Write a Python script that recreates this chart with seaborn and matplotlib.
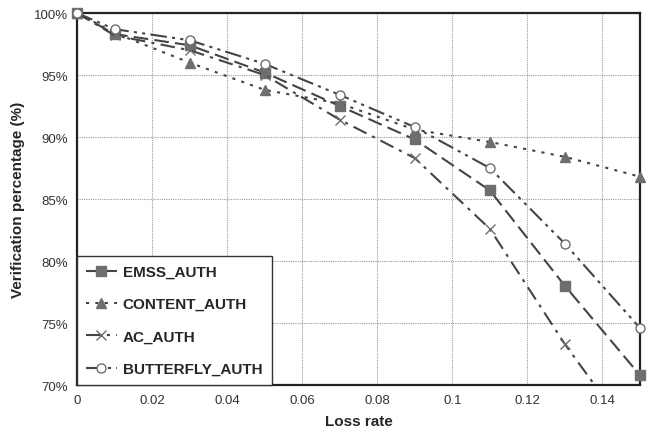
import numpy as np
import pandas as pd
import seaborn as sns
import matplotlib
matplotlib.use('Agg')
import matplotlib.pyplot as plt
from matplotlib.ticker import FuncFormatter

loss_rate = [0, 0.01, 0.03, 0.05, 0.07, 0.09, 0.11, 0.13, 0.15]
emss = [100, 98.3, 97.4, 95.2, 92.5, 89.8, 85.7, 78.0, 70.8]
content = [100, 98.4, 96.0, 93.8, 92.7, 90.6, 89.6, 88.4, 86.8]
ac = [100, 98.2, 97.0, 95.0, 91.4, 88.3, 82.6, 73.3, 65.0]
butterfly = [100, 98.7, 97.8, 95.9, 93.4, 90.8, 87.5, 81.4, 74.6]
names = ['EMSS_AUTH', 'CONTENT_AUTH', 'AC_AUTH', 'BUTTERFLY_AUTH']

df = pd.concat([
    pd.DataFrame({'loss': loss_rate, 'pct': v, 'scheme': n})
    for n, v in zip(names, [emss, content, ac, butterfly])
])

sns.set_style('white')
plt.rcParams['font.family'] = ['Liberation Sans', 'DejaVu Sans']

fig = plt.figure(figsize=(6.49, 4.35), dpi=100)
ax = fig.add_axes([0.1186, 0.1126, 0.8674, 0.8552])

line_col = '#444444'
mark_col = '#6e6e6e'
styles = {
    'EMSS_AUTH': dict(marker='s', dashes=(7, 3), mfc=mark_col, clip=False),
    'CONTENT_AUTH': dict(marker='^', dashes=(1.5, 3), mfc=mark_col, clip=False),
    'AC_AUTH': dict(marker='x', dashes=(7, 3, 1.5, 3), mfc=mark_col, clip=True),
    'BUTTERFLY_AUTH': dict(marker='o', dashes=(8, 2.5, 1.5, 2.5, 1.5, 2.5), mfc='white', clip=False),
}
for n in names:
    st = styles[n]
    sub = df[df['scheme'] == n]
    sns.lineplot(data=sub, x='loss', y='pct', ax=ax, label=n, color=line_col,
                 lw=1.5, marker=st['marker'], markersize=6.5,
                 markerfacecolor=st['mfc'], markeredgecolor=mark_col,
                 markeredgewidth=1.0, dashes=st['dashes'], clip_on=st['clip'],
                 zorder=3)

ax.set_xlim(0, 0.15)
ax.set_ylim(70, 100)
ax.set_xticks(np.arange(0, 0.141, 0.02))
ax.set_yticks(np.arange(70, 100.1, 5))
ax.xaxis.set_major_formatter(FuncFormatter(lambda v, p: '0' if v == 0 else ('%g' % round(v, 2))))
ax.yaxis.set_major_formatter(FuncFormatter(lambda v, p: '%d%%' % v))
ax.grid(True, color='#9a9a9a', linestyle=(0, (1, 1)), linewidth=0.8)
ax.tick_params(labelsize=9.5, colors='#333333', length=3, direction='out')
for s in ax.spines.values():
    s.set_color('#222222')
    s.set_linewidth(1.6)

ax.set_xlabel('Loss rate', fontsize=11, fontweight='bold', labelpad=6)
ax.set_ylabel('Verification percentage (%)', fontsize=11, fontweight='bold', labelpad=6)

leg = ax.legend(loc='lower left', bbox_to_anchor=(0, 0), borderaxespad=0,
                frameon=True, fancybox=False, prop={'weight': 'bold', 'size': 11},
                handlelength=2.0, labelspacing=1.2, borderpad=0.6, handletextpad=0.4)
leg.get_frame().set_edgecolor('#333333')
leg.get_frame().set_linewidth(1.0)
leg.get_frame().set_alpha(1)
leg.set_zorder(5)

fig.savefig('out.png', dpi=100)
